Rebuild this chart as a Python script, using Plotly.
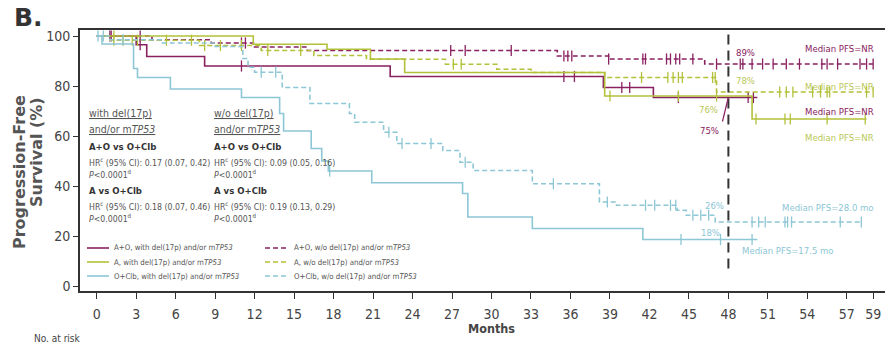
import numpy as np
import plotly.graph_objects as go

# ---------------- data ----------------
# A+O, with del(17p) and/or mTP53
aoWith_t = [0, 3.0, 3.8, 8.2, 22.3, 38.5, 42.3, 50.2]
aoWith_s = [100, 96.5, 91.8, 88.0, 83.8, 79.4, 75.4, 75.4]
aoWith_cens = [1.0, 3.3, 11.0, 35.5, 36.3, 39.9, 40.5, 44.2, 49.5, 49.9]
# A+O, w/o
aoWo_t = [0, 4.2, 8.7, 11.9, 16.0, 35.0, 38.9, 46.2, 59.0]
aoWo_s = [100, 98.5, 97.2, 95.6, 94.2, 92.0, 90.8, 88.8, 88.8]
aoWo_cens = [1.1, 3.3, 11.0, 11.3, 26.9, 28.0, 31.5, 35.5, 35.8, 36.1, 38.9, 41.5, 41.7,
             43.3, 43.6, 44.0, 44.3, 45.3, 47.1, 48.9, 49.1, 49.8, 50.6, 51.4, 52.4, 53.4,
             55.1, 55.5, 56.3, 58.0, 58.5, 59.0]
# A, with
aWith_t = [0, 11.9, 17.5, 20.8, 23.4, 38.6, 49.8, 58.5]
aWith_s = [100, 96.7, 94.7, 90.8, 85.4, 76.0, 66.8, 66.8]
aWith_cens = [1.3, 39.0, 44.2, 47.1, 50.1, 52.3, 52.7, 55.5, 58.4]
# A, w/o
aWo_t = [0, 1.0, 7.8, 12.5, 16.5, 20.5, 26.5, 30.4, 33.0, 38.6, 47.1, 59.0]
aWo_s = [100, 98.3, 96.2, 94.2, 92.2, 90.7, 88.7, 86.7, 85.4, 83.4, 77.6, 77.6]
aWo_cens = [1.3, 2.0, 2.7, 3.1, 5.3, 7.2, 8.2, 9.4, 11.0, 13.0, 15.5, 27.1, 27.7, 41.4,
            43.4, 43.8, 44.2, 44.5, 46.8, 47.0, 51.9, 52.4, 52.9, 54.4, 55.0, 55.5, 55.7,
            58.5, 59.0]
# O+Clb, with
oWith_t = [0, 0.4, 2.8, 3.1, 5.6, 11.0, 13.9, 14.2, 16.3, 17.1, 17.6, 20.9, 27.8, 28.2,
           33.1, 41.5, 50.2]
oWith_s = [100, 96.8, 87.0, 83.4, 78.8, 75.4, 69.0, 62.0, 55.0, 50.0, 46.0, 41.3, 37.0,
           27.6, 23.0, 18.6, 18.6]
oWith_cens = [0.1, 17.7, 44.4, 47.4, 49.8]
# O+Clb, w/o
oWo_t = [0, 1.0, 5.0, 9.0, 11.1, 11.5, 12.0, 14.1, 16.2, 19.2, 19.6, 21.8, 22.8, 26.3,
         27.6, 28.6, 33.1, 38.2, 39.5, 44.1, 44.8, 47.0, 58.1]
oWo_s = [100, 98.5, 97.2, 95.8, 91.0, 87.5, 85.5, 79.4, 73.0, 69.0, 65.5, 61.5, 57.0,
         54.2, 49.5, 46.2, 40.9, 33.6, 32.3, 30.3, 28.3, 25.6, 25.6]
oWo_cens = [0.5, 2.0, 12.5, 13.6, 22.2, 23.2, 25.4, 28.0, 34.7, 38.8, 41.7, 42.4, 43.6,
            44.0, 45.3, 45.9, 46.5, 49.8, 50.3, 50.8, 52.3, 52.5, 52.8, 56.5, 58.1]

x_ticks = [0, 3, 6, 9, 12, 15, 18, 21, 24, 27, 30, 33, 36, 39, 42, 45, 48, 51, 54, 57, 59]
y_ticks = [0, 20, 40, 60, 80, 100]
landmark_month = 48

# ---------------- style ----------------
MAG = '#8A2160'
GRN = '#B3C13A'
GRN_T = '#B9C857'
BLU = '#8DC6D5'
FONT = 'Liberation Sans Narrow, Arial Narrow, DejaVu Sans Condensed, Liberation Sans, sans-serif'
WIDE = 'DejaVu Sans, sans-serif'
TXT = '#555555'

fig = go.Figure()


def step_val(t, s, x):
    i = np.searchsorted(np.array(t), np.array(x), side='right') - 1
    return np.array(s)[i]


series = [
    (aoWith_t, aoWith_s, aoWith_cens, MAG, 'solid'),
    (aoWo_t, aoWo_s, aoWo_cens, MAG, '5px,3px'),
    (aWith_t, aWith_s, aWith_cens, GRN, 'solid'),
    (aWo_t, aWo_s, aWo_cens, GRN, '5px,3px'),
    (oWith_t, oWith_s, oWith_cens, BLU, 'solid'),
    (oWo_t, oWo_s, oWo_cens, BLU, '5px,3px'),
]

for t, s, c, col, dash in series:
    fig.add_trace(go.Scatter(x=t, y=s, mode='lines', line=dict(color=col, width=1.6, dash=dash, shape='hv'),
                             showlegend=False, hoverinfo='skip'))
    fig.add_trace(go.Scatter(x=c, y=step_val(t, s, c), mode='markers',
                             marker=dict(symbol='line-ns', size=8, line=dict(color=col, width=1.3)),
                             showlegend=False, hoverinfo='skip'))

# landmark vertical dashed line
fig.add_shape(type='line', xref='x', yref='y', x0=landmark_month, x1=landmark_month, y0=7, y1=102.4,
              line=dict(color='#333333', width=2, dash='10px,6px'))
# connector for 75%
fig.add_shape(type='line', xref='x', yref='y', x0=47.55, x1=48.0, y0=65.8, y1=75.6,
              line=dict(color=MAG, width=1.2))

ann = []


def da(x, y, text, color, anchor='left', size=9.5):
    ann.append(dict(x=x, y=y, xref='x', yref='y', text=text, showarrow=False, xanchor=anchor,
                    yanchor='middle', font=dict(family=FONT, size=size, color=color)))


da(48.4, 93.6, '89%', MAG)
da(59.25, 95.0, 'Median PFS=NR', MAG, 'right')
da(48.4, 82.4, '78%', GRN_T)
da(59.25, 80.0, 'Median PFS=NR', GRN_T, 'right')
da(47.35, 70.8, '76%', GRN_T, 'right')
da(59.25, 70.0, 'Median PFS=NR', MAG, 'right')
da(47.45, 62.4, '75%', MAG, 'right')
da(59.25, 59.6, 'Median PFS=NR', GRN_T, 'right')
da(47.8, 32.4, '26%', BLU, 'right')
da(59.25, 31.6, 'Median PFS=28.0 mo', BLU, 'right')
da(47.5, 21.6, '18%', BLU, 'right')
da(48.9, 14.4, 'Median PFS=17.5 mo', BLU, 'left')

W, H = 888, 347
L, R, T, B = 80, 3, 30, 56


def pp(px, py):
    return (px - L) / (W - L - R), (H - B - py) / (H - T - B)


def pa(px, py, text, size=11, color=TXT, anchor='left', bold=False, angle=0, family=FONT):
    x, y = pp(px, py)
    ann.append(dict(x=x, y=y, xref='paper', yref='paper', text=(f'<b>{text}</b>' if bold else text),
                    showarrow=False, xanchor=anchor, yanchor='middle', textangle=angle,
                    font=dict(family=family, size=size, color=color)))


# statistics block
cols = [
    (87, '<u>with del(17p)</u>', '0.17 (0.07, 0.42)', '0.18 (0.07, 0.46)'),
    (212, '<u>w/o del(17p)</u>', '0.09 (0.05, 0.16)', '0.19 (0.13, 0.29)'),
]
for px, head, hr1, hr2 in cols:
    pa(px, 113, head, size=10.5)
    pa(px, 129, '<u>and/or m<i>TP53</i></u>', size=10.5)
    pa(px, 146.5, 'A+O vs O+Clb', size=9.5, color='#333333', bold=True)
    pa(px, 162, 'HR<sup>c</sup> (95% CI): ' + hr1, size=8.7)
    pa(px, 174, '<i>P</i><0.0001<sup>d</sup>', size=8.7)
    pa(px, 190.5, 'A vs O+Clb', size=9.5, color='#333333', bold=True)
    pa(px, 206, 'HR<sup>c</sup> (95% CI): ' + hr2, size=8.7)
    pa(px, 218, '<i>P</i><0.0001<sup>d</sup>', size=8.7)

# custom legend
legend_rows = [
    ('A+O, with del(17p) and/or m<i>TP53</i>', 'A+O, w/o del(17p) and/or m<i>TP53</i>', MAG, 248),
    ('A, with del(17p) and/or m<i>TP53</i>', 'A, w/o del(17p) and/or m<i>TP53</i>', GRN, 262),
    ('O+Clb, with del(17p) and/or m<i>TP53</i>', 'O+Clb, w/o del(17p) and/or m<i>TP53</i>', BLU, 276),
]
for t1, t2, col, py in legend_rows:
    x0, y0 = pp(87, py)
    x1, _ = pp(109, py)
    fig.add_shape(type='line', xref='paper', yref='paper', x0=x0, x1=x1, y0=y0, y1=y0,
                  line=dict(color=col, width=1.6))
    x0, _ = pp(265, py)
    x1, _ = pp(289, py)
    fig.add_shape(type='line', xref='paper', yref='paper', x0=x0, x1=x1, y0=y0, y1=y0,
                  line=dict(color=col, width=1.6, dash='5px,3px'))
    pa(112, py, t1, size=7.8)
    pa(292, py, t2, size=7.8)

# outer labels
pa(12, 17, 'B.', size=25, color='#333333', bold=True, family=WIDE)
pa(20, 172, 'Progression-Free', size=16, color='#555555', bold=True, anchor='center', angle=-90,
   family=WIDE)
pa(36, 152, 'Survival (%)', size=16, color='#555555', bold=True, anchor='center', angle=-90,
   family=WIDE)
pa(491, 328, 'Months', size=12.5, color='#444444', bold=True, anchor='center')
pa(32, 338, 'No. at risk', size=10, color='#444444')

fig.update_layout(
    width=W, height=H,
    margin=dict(l=L, r=R, t=T, b=B),
    plot_bgcolor='white', paper_bgcolor='white',
    annotations=ann,
    font=dict(family=FONT, color='#444444'),
    xaxis=dict(range=[-1.27, 59.9], tickvals=x_ticks, ticktext=[str(v) for v in x_ticks],
               showgrid=False, zeroline=False, showline=True, linecolor='#333333', linewidth=1.6,
               mirror=True, ticks='outside', ticklen=6, tickwidth=1.3, tickcolor='#333333',
               tickfont=dict(family=FONT, size=14, color='#444444'), ticklabelstandoff=3),
    yaxis=dict(range=[-2.0, 102.4], tickvals=y_ticks, showgrid=False, zeroline=False,
               showline=True, linecolor='#333333', linewidth=1.6, ticks='outside', ticklen=5,
               tickwidth=1.3, tickcolor='#333333',
               tickfont=dict(family=FONT, size=14, color='#444444')),
)

fig.write_html('out.html', config={'displayModeBar': False},
               post_script="document.body.style.margin='0';document.body.style.overflow='hidden';")
